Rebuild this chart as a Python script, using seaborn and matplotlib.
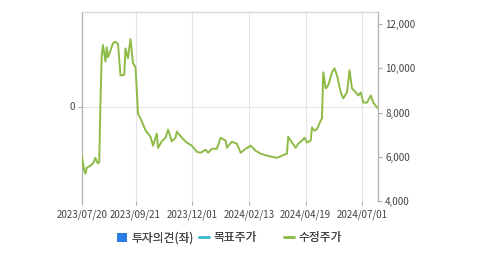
import matplotlib
matplotlib.use("Agg")
import matplotlib.pyplot as plt
import seaborn as sns
import pandas as pd
from matplotlib.lines import Line2D
from matplotlib.patches import Patch

# trading-day index and adjusted price (수정주가)
day_idx = [0, 2, 3, 4, 7, 9, 11, 12, 13, 14, 15, 16, 17, 19, 20, 21, 23, 25, 27, 29,
           31, 34, 35, 37, 39, 41, 43, 45, 47, 51, 55, 57, 60, 61, 64, 67, 69, 72, 75, 76,
           80, 84, 88, 92, 95, 99, 101, 104, 108, 111, 115, 116, 120, 124, 127, 131, 135, 139, 143, 148,
           152, 156, 160, 164, 165, 168, 171, 173, 176, 178, 180, 183, 184, 186, 188, 191, 192, 193, 195, 197,
           200, 202, 204, 207, 209, 212, 214, 216, 219, 221, 223, 225, 228, 231, 233, 236, 237]
price = [6045, 5400, 5230, 5500, 5600, 5700, 5950, 5800, 5700, 5750, 8500, 10600, 11050, 10300, 10950, 10500, 10800, 11140, 11200, 11100,
         9680, 9700, 10900, 10450, 11320, 10230, 10050, 7950, 7730, 7200, 6900, 6500, 7050, 6400, 6700, 6860, 7230, 6700, 6860, 7140,
         6860, 6640, 6500, 6230, 6180, 6320, 6180, 6360, 6360, 6860, 6730, 6410, 6680, 6590, 6180, 6360, 6500, 6270, 6140, 6050,
         6000, 5950, 6050, 6140, 6900, 6640, 6410, 6590, 6730, 6860, 6640, 6730, 7320, 7180, 7250, 7640, 7730, 9820, 9090, 9230,
         9820, 10000, 9680, 8910, 8640, 8910, 9910, 9090, 8910, 8770, 8910, 8450, 8450, 8770, 8450, 8230, 8180]

tick_pos = [0, 43, 88, 134, 179, 224]
tick_labels = ["2023/07/20", "2023/09/21", "2023/12/01", "2024/02/13", "2024/04/19", "2024/07/01"]
right_ticks = [4000, 6000, 8000, 10000, 12000]
legend_labels = ["투자의견(좌)", "목표주가", "수정주가"]

df = pd.DataFrame({"day": day_idx, "price": price})

sns.set_theme(style="white")
plt.rcParams["font.family"] = ["Noto Sans CJK KR", "DejaVu Sans"]

fig = plt.figure(figsize=(4.79, 2.54), dpi=100)
ax = fig.add_axes([81.7 / 479, 1 - 201 / 254, (378.3 - 81.7) / 479, (201 - 12) / 254])
ax2 = ax.twinx()

green = "#8dbb45"
sns.lineplot(data=df, x="day", y="price", ax=ax2, color=green, linewidth=1.4)

ax.set_xlim(0, 237)
ax.set_ylim(-1, 1)
ax.set_yticks([0])
ax.set_yticklabels(["0"])
ax.set_xticks(tick_pos)
ax.set_xticklabels(tick_labels)
ax.grid(False)
for p in tick_pos[1:]:
    ax.axvline(p, color="#e4e4e4", linewidth=0.8, zorder=0)
ax.axhline(0, color="#e4e4e4", linewidth=0.8, zorder=0)

ax2.set_ylim(4000, 12545)
ax2.set_yticks(right_ticks)
ax2.set_yticklabels([f"{v:,}" for v in right_ticks])
ax2.set_xlabel("")
ax2.set_ylabel("")
ax.set_xlabel("")
ax.set_ylabel("")
ax2.grid(False)

for a in (ax, ax2):
    for s in a.spines.values():
        s.set_visible(False)
ax.spines["left"].set_visible(True)
ax.spines["left"].set_color("#b0b0b0")
ax.spines["left"].set_linewidth(0.9)
ax.spines["top"].set_visible(True)
ax.spines["top"].set_color("#d6d6d6")
ax.spines["top"].set_linewidth(0.9)
ax2.spines["right"].set_visible(True)
ax2.spines["right"].set_color("#b0b0b0")
ax2.spines["right"].set_linewidth(0.9)

ax.tick_params(axis="x", length=3, width=0.8, color="#b0b0b0", labelsize=7, labelcolor="#444444", pad=3, bottom=True)
ax.tick_params(axis="y", length=3, width=0.8, color="#b0b0b0", labelsize=7, labelcolor="#444444", pad=2, left=True)
ax2.tick_params(axis="y", length=3, width=0.8, color="#b0b0b0", labelsize=7, labelcolor="#444444", pad=2, right=True)

handles = [
    Patch(facecolor="#2a7de1", edgecolor="none"),
    Line2D([0], [0], color="#3db8d3", linewidth=1.8),
    Line2D([0], [0], color=green, linewidth=1.8),
]
starts = [117, 199, 284]
for h, lab, x0 in zip(handles, legend_labels, starts):
    leg = fig.legend([h], [lab], loc="center left", bbox_to_anchor=(x0 / 479, 1 - 238 / 254),
                     frameon=False, fontsize=8.5, handlelength=0.85, handleheight=0.85,
                     handletextpad=0.4, borderpad=0, borderaxespad=0, labelcolor="#444444")
    fig.add_artist(leg)

fig.savefig("out.png", dpi=100)
